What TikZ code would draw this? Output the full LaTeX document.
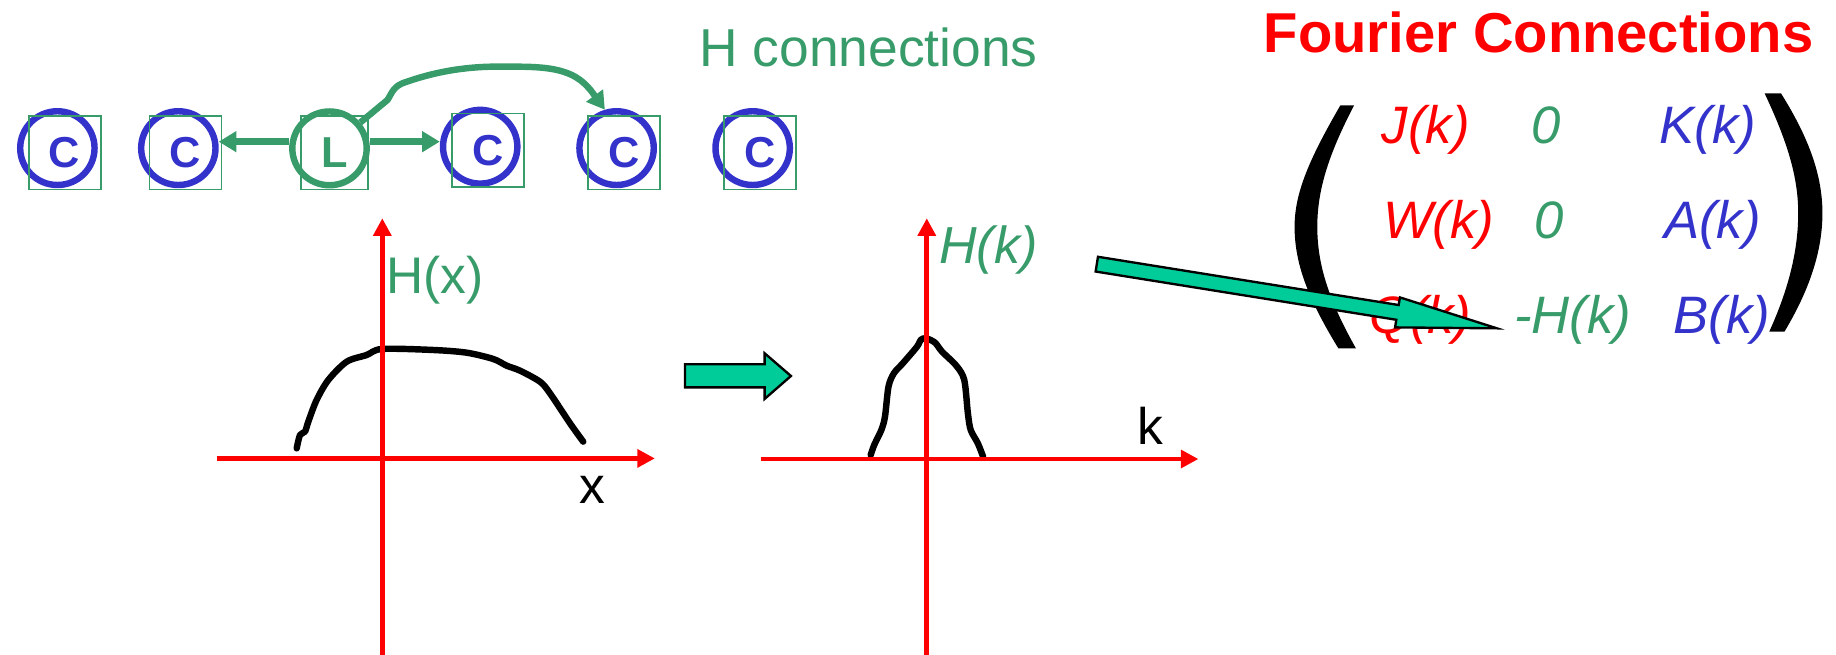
\documentclass[tikz,border=0pt]{standalone}
\usepackage{fontspec}
\setmainfont{Liberation Sans}
\usetikzlibrary{arrows.meta,shapes.geometric}
\definecolor{hgreen}{RGB}{56,155,106}
\definecolor{cblue}{RGB}{51,51,204}
\definecolor{tealfill}{RGB}{0,204,153}
\begin{document}
\begin{tikzpicture}[x=1pt,y=-1pt,
  ring/.style={ellipse, draw=cblue, line width=5.5pt, minimum width=63.5pt, minimum height=63pt, inner sep=0pt},
  lring/.style={ring, draw=hgreen},
  cbox/.style={draw=hgreen, line width=1.5pt, minimum width=61.5pt, minimum height=63pt, inner sep=0pt,
    font=\fontsize{37}{40}\selectfont\bfseries, text=cblue},
  lbox/.style={cbox, minimum width=57pt, text=hgreen},
  conn/.style={draw=hgreen, line width=5.5pt, -{Triangle[length=15pt,width=17pt]}},
  axis/.style={draw=red, line width=4pt, -{Triangle[length=15pt,width=15pt]}},
  curve/.style={draw=black, line width=5.5pt, line cap=round, line join=round},
  txt/.style={anchor=base west, inner sep=0pt},
  mtx/.style={txt, font=\fontsize{45}{50}\selectfont\itshape},
  lbl/.style={txt, font=\fontsize{44}{50}\selectfont},
  block/.style={fill=tealfill, draw=black, line width=2pt, line join=miter}
]
\useasboundingbox (0,0) rectangle (1568,559);

% ---- top row of sites ----
\node[ring]  (eC1) at (49,126.5) {};
\node[ring]  (eC2) at (152.3,126.5) {};
\node[lring] (eL)  at (281.4,126.7) {};
\node[ring]  (eC3) at (410.1,125.3) {};
\node[ring]  (eC4) at (526.6,126.5) {};
\node[ring]  (eC5) at (642.8,126.5) {};

\node[cbox] (bC1) at (55.2,130.3) {C};
\node[cbox] (bC2) at (158.4,130.3) {C};
\node[lbox] (bL)  at (285.7,130.3) {L};
\node[cbox] (bC3) at (416.7,128.4) {C};
\node[cbox] (bC4) at (533,130.3) {C};
\node[cbox] (bC5) at (649.2,130.3) {C};

\draw[conn] ([yshift=5.7pt]eL.west) -- ([yshift=5.5pt]eC2.east);
\draw[conn] ([yshift=5.7pt]eL.east) -- ([yshift=4.3pt]eC3.west);
\draw[conn] (eL.40) -- (330.9,85.4) .. controls (335,79) and (336,73) .. (347.7,69.7)
  .. controls (370,62) and (395,57) .. (423.9,56.9)
  .. controls (452,57) and (475,56) .. (492,66)
  .. controls (502,72) and (508,82) .. (eC4.107);

\node[txt, text=hgreen, font=\fontsize{45.6}{50}\selectfont] (hconn) at (597,57) {H connections};

% ---- plot 1 ----
\draw[curve] plot[smooth, tension=0.5] coordinates {(253.4,382.9) (256.2,371.5) (260.5,368.6) (263.3,360.1)
  (270.4,341.6) (280.4,324.5) (296.1,308.9) (313.1,303.2) (326.5,298) (370,298.9) (398.5,301.2)
  (421.3,306.6) (432.7,312.3) (444,316.5) (461.2,326) (469.7,335.9) (486.8,361.5) (498.1,377.2)};
\draw[axis] (326.5,559) -- (326.5,186.4);
\draw[axis] (185,391.5) -- (559.3,391.5);
\node[lbl, text=hgreen] (hx) at (329.5,250.5) {H(x)};
\node[lbl] (xl) at (494.5,430) {x};

% ---- small block arrow ----
\draw[block] (585,311.1) -- (653,311.1) -- (653,301.7) -- (675.5,321.1) -- (653,340.7) -- (653,330.8) -- (585,330.8) -- cycle;

% ---- plot 2 ----
\draw[curve] plot[smooth, tension=0.5] coordinates {(743.6,388.6) (746.6,380) (752.7,367.2) (755.8,355.8)
  (758.8,330.2) (763.4,318.8) (771,310.3) (783.2,296) (786.3,290.3) (790.8,288.9) (798.5,292.6)
  (804.5,300.3) (816.7,312.3) (823.5,324.5) (826.6,353) (829,367.2) (835.1,378.6) (839.6,390)};
\draw[axis] (791.5,559) -- (791.5,186.4);
\draw[axis] (650,392) -- (1023.5,392);
\node[lbl, text=hgreen, font=\fontsize{44.5}{50}\selectfont\itshape] (hk) at (802,225) {H(k)};
\node[lbl] (kl) at (971,380) {k};

% ---- Fourier matrix ----
\node[anchor=base east, inner sep=0pt, text=red, font=\fontsize{48}{52}\selectfont\bfseries] (fc) at (1549,45) {Fourier Connections};

\fill (1144.7,90) .. controls (1118,136) and (1105.6,165) .. (1105.6,193.6)
  .. controls (1105.6,225) and (1117,255) .. (1143,297.5) -- (1158,297.5)
  .. controls (1134,255) and (1125,225) .. (1125,193.6)
  .. controls (1125,163) and (1134,133) .. (1156.4,90) -- cycle;
\fill (1507,79.7) .. controls (1527,122) and (1535.7,152) .. (1535.7,182)
  .. controls (1535.7,215) and (1527,248) .. (1511,283.2) -- (1524,283.2)
  .. controls (1545,248) and (1556.4,215) .. (1556.4,182)
  .. controls (1556.4,150) and (1545,118) .. (1521,79.7) -- cycle;

\node[mtx, text=red]    (m11) at (1180,122.4) {J(k)};
\node[mtx, text=hgreen] (m12) at (1308,122.4) {0};
\node[mtx, text=cblue]  (m13) at (1417,122.4) {K(k)};
\node[mtx, text=red]    (m21) at (1181,203.5) {W(k)};
\node[mtx, text=hgreen] (m22) at (1310,203.5) {0};
\node[mtx, text=cblue]  (m23) at (1421,203.5) {A(k)};
\node[mtx, text=red]    (m31) at (1169,284.7) {Q(k)};
\node[mtx, text=hgreen] (m32) at (1293,284.7) {-H(k)};
\node[mtx, text=cblue]  (m33) at (1429,284.7) {B(k)};

% ---- big block arrow ----
\draw[block] (937.7,219.3) -- (1194.5,260.5) -- (1195.6,254.0) -- (1278.4,280.4)
  -- (1191.4,279.6) -- (1192.5,273.1) -- (935.7,231.9) -- cycle;
\end{tikzpicture}
\end{document}
